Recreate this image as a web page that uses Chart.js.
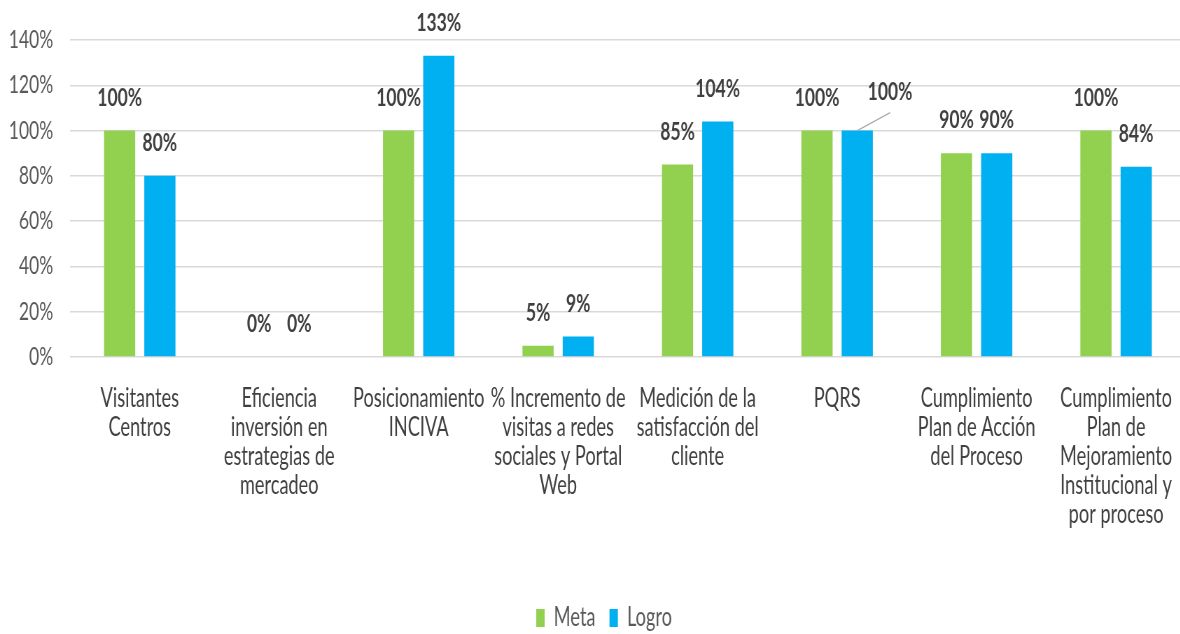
<!DOCTYPE html>
<html>
<head>
<meta charset="utf-8">
<script src="https://cdn.jsdelivr.net/npm/chart.js@4.4.0/dist/chart.umd.min.js"></script>
<style>
  html, body { margin: 0; padding: 0; background: #fff; overflow: hidden; }
  body { width: 1180px; height: 634px; }
  /* el gráfico original está comprimido en horizontal */
  #wrap { width: 1694px; height: 641px; transform: scaleX(0.7); transform-origin: 0 0; }
</style>
</head>
<body>
<div id="wrap"><canvas id="chart" width="1694" height="641"></canvas></div>
<script>
const categories = [
  ["Visitantes", "Centros"],
  ["Eficiencia", "inversión en", "estrategias de", "mercadeo"],
  ["Posicionamiento", "INCIVA"],
  ["% Incremento de", "visitas a redes", "sociales y Portal", "Web"],
  ["Medición de la", "satisfacción del", "cliente"],
  ["PQRS"],
  ["Cumplimiento", "Plan de Acción", "del Proceso"],
  ["Cumplimiento", "Plan de", "Mejoramiento", "Institucional y", "por proceso"]
];
const metaValues = [100, 0, 100, 5, 85, 100, 90, 100];
const logroValues = [80, 0, 133, 9, 104, 100, 90, 84];
const yMax = 140;
const yStep = 20;

const FONT = "Lato, 'Open Sans', sans-serif";

// etiquetas de valor encima de las barras
const barLabels = {
  id: "barLabels",
  afterLayout(chart) {
    // la leyenda va centrada sobre el área del gráfico, no sobre el lienzo
    chart.legend.left += 16;
    chart.legend.right += 16;
  },
  afterDatasetsDraw(chart) {
    const ctx = chart.ctx;
    ctx.save();
    ctx.font = "bold 25px " + FONT;
    ctx.fillStyle = "#404040";
    ctx.textAlign = "center";
    ctx.textBaseline = "middle";
    chart.data.datasets.forEach((ds, i) => {
      const meta = chart.getDatasetMeta(i);
      meta.data.forEach((bar, j) => {
        let x = bar.x;
        let y = bar.y - 33;
        // PQRS / Logro: etiqueta desplazada con línea guía
        if (i === 1 && j === 5) {
          ctx.strokeStyle = "#a6a6a6";
          ctx.lineWidth = 1.2;
          ctx.beginPath();
          ctx.moveTo(bar.x, bar.y);
          ctx.lineTo(bar.x + 47, bar.y - 18);
          ctx.stroke();
          x += 47;
          y -= 6;
        }
        ctx.fillText(ds.data[j] + "%", x, y);
      });
    });
    ctx.restore();
  }
};

new Chart(document.getElementById("chart"), {
  type: "bar",
  data: {
    labels: categories,
    datasets: [
      { label: "Meta", data: metaValues, backgroundColor: "#92D050",
        categoryPercentage: 0.577, barPercentage: 0.775 },
      { label: "Logro", data: logroValues, backgroundColor: "#00B0F0",
        categoryPercentage: 0.577, barPercentage: 0.775 }
    ]
  },
  options: {
    responsive: false,
    animation: false,
    layout: { padding: { top: 40, right: 0, left: 0, bottom: 0 } },
    plugins: {
      tooltip: { enabled: false },
      legend: {
        position: "bottom",
        labels: {
          font: { family: FONT, size: 26 },
          color: "#595959",
          boxWidth: 12,
          boxHeight: 18,
          padding: 20
        }
      }
    },
    scales: {
      x: {
        grid: { display: false, drawTicks: true, tickLength: 27 },
        border: { display: false },
        ticks: {
          autoSkip: false,
          maxRotation: 0,
          minRotation: 0,
          padding: 0,
          color: "#404040",
          font: { family: FONT, size: 26, lineHeight: 1.115 }
        },
        afterFit(scale) { scale.height = 228; }
      },
      y: {
        min: 0,
        max: yMax,
        grid: { color: "#d9d9d9", lineWidth: 1.5, drawTicks: false },
        border: { display: false },
        ticks: {
          stepSize: yStep,
          padding: 24,
          color: "#595959",
          font: { family: FONT, size: 25 },
          callback: v => v + "%"
        },
        afterFit(scale) { scale.width = 100; }
      }
    }
  },
  plugins: [barLabels]
});
</script>
</body>
</html>
